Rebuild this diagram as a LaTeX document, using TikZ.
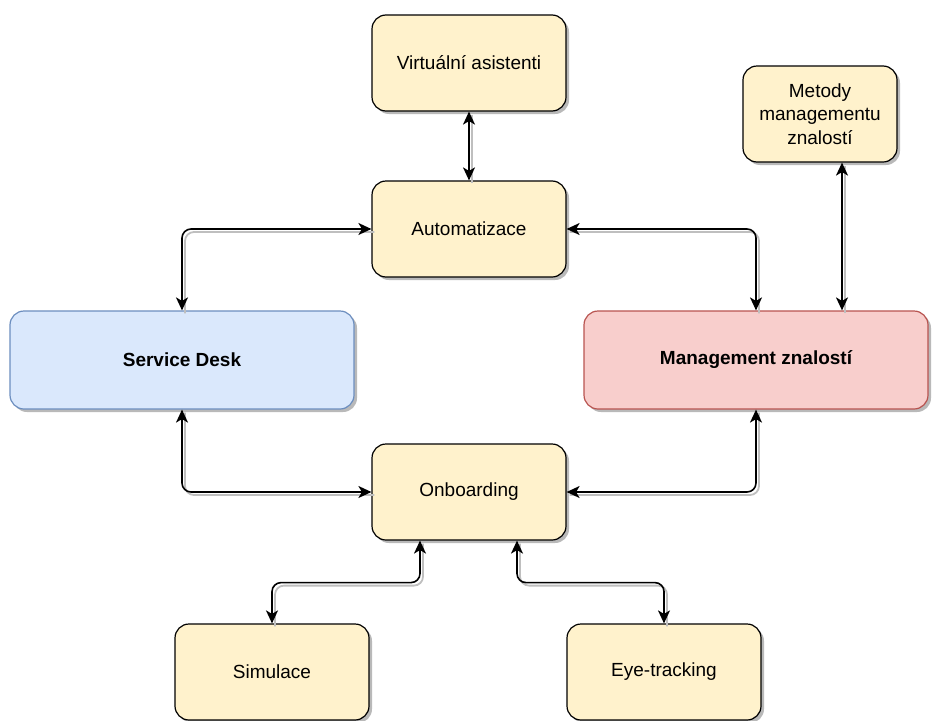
\documentclass[tikz,border=0pt]{standalone}
\usepackage{fontspec}
\setmainfont{Liberation Sans}
\usetikzlibrary{arrows.meta,shadows}
\definecolor{noteyellow}{HTML}{FFF2CC}
\definecolor{deskblue}{HTML}{DAE8FC}
\definecolor{deskline}{HTML}{6C8EBF}
\definecolor{knowred}{HTML}{F8CECC}
\definecolor{knowline}{HTML}{B85450}

\begin{document}
\begin{tikzpicture}[x=1pt, y=-1pt, font=\fontsize{19}{23.5}\selectfont,
    main/.style = {draw, line width=1.2pt, rounded corners=14pt, fill=noteyellow,
        minimum width=194pt, minimum height=96pt, align=center, inner sep=2pt,
        drop shadow={shadow xshift=3pt, shadow yshift=-3pt, fill=gray!55, opacity=1}},
    wide/.style = {main, minimum width=344pt, minimum height=98pt,
        font=\fontsize{19}{23.5}\selectfont\bfseries},
    link/.style = {line width=1.6pt, rounded corners=9pt,
        {Stealth[length=13pt,width=12pt,inset=3.5pt]}-{Stealth[length=13pt,width=12pt,inset=3.5pt]},
        preaction={draw=gray!50, line width=1.8pt, -, transform canvas={shift={(3pt,-3pt)}}}}]
    \useasboundingbox (0,0) rectangle (933,720);
    \node[main] (1) at (469,63) {Virtuální asistenti};
    \node[main] (2) at (469,229) {Automatizace};
    \node[main, minimum width=154pt] (3) at (820,114) {Metody\\managementu\\znalostí};
    \node[wide, fill=deskblue, draw=deskline] (4) at (182,360) {Service Desk};
    \node[wide, fill=knowred, draw=knowline] (5) at (756,360) {Management znalostí};
    \node[main] (6) at (469,492) {Onboarding};
    \node[main] (7) at (272,672) {Simulace};
    \node[main] (8) at (664,672) {Eye-tracking};
    % links around Automatizace
    \draw[link] (1.south) -- (2.north);
    \draw[link] (2.west) -| (4.north);
    \draw[link] (2.east) -| (5.north);
    \coordinate (k) at ([xshift=86pt]5.north);
    \draw[link] (k |- 3.south) -- (k);
    % links around Onboarding
    \draw[link] (4.south) |- (6.west);
    \draw[link] (5.south) |- (6.east);
    \draw[link] ([xshift=-49pt]6.south) -- ++(0,42) -| (7.north);
    \draw[link] ([xshift=48pt]6.south) -- ++(0,42) -| (8.north);
\end{tikzpicture}
\end{document}
